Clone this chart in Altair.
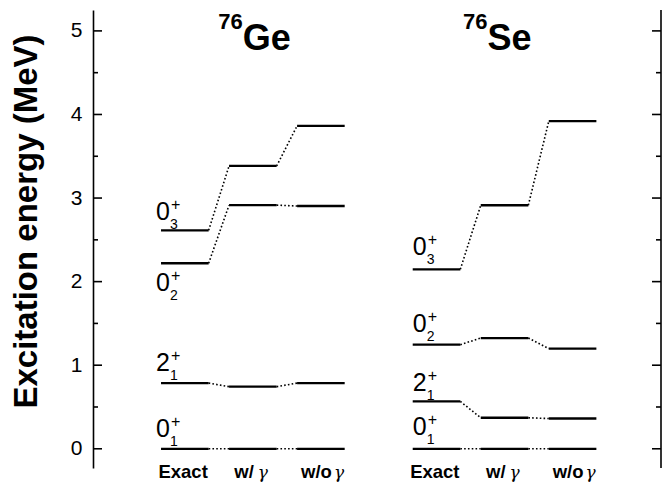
import altair as alt
import pandas as pd

# ---- data -------------------------------------------------------------
NUCLEI = ["Ge", "Se"]
MASS = ["76", "76"]
METHODS = ["Exact", "w/ γ", "w/o γ"]
STATES = ["0_1", "2_1", "0_2", "0_3"]
SPIN = ["0", "2", "0", "0"]
INDEX = ["1", "1", "2", "3"]
PARITY = ["+", "+", "+", "+"]

# excitation energies (MeV) of 0+_1, 2+_1, 0+_2, 0+_3
GE_EXACT = [0.0, 0.786, 2.22, 2.614]
GE_WITH = [0.0, 0.743, 2.915, 3.384]
GE_WITHOUT = [0.0, 0.786, 2.905, 3.863]
SE_EXACT = [0.0, 0.566, 1.245, 2.147]
SE_WITH = [0.0, 0.371, 1.325, 2.914]
SE_WITHOUT = [0.0, 0.362, 1.198, 3.92]

ENERGIES = {
    "Ge": [GE_EXACT, GE_WITH, GE_WITHOUT],
    "Se": [SE_EXACT, SE_WITH, SE_WITHOUT],
}

Y_TICKS = [0, 1, 2, 3, 4, 5]
Y_MINOR = [0.5, 1.5, 2.5, 3.5, 4.5]

# ---- layout -----------------------------------------------------------
W, H = 568, 458
Y_DOMAIN = [-0.23, 5.25]
X_DOMAIN = [-1.35, 7.0]
PX_PER_MEV = H / (Y_DOMAIN[1] - Y_DOMAIN[0])
PX_PER_X = W / (X_DOMAIN[1] - X_DOMAIN[0])
NUCLEUS_SHIFT = 3.7      # horizontal offset between the two level schemes
HALF = 0.35              # half length of a level bar (x units)

# label placement (pixels): lift of the spin label baseline above its level
LABEL_LIFT = {
    ("Ge", "0_1"): 12, ("Ge", "2_1"): 12, ("Ge", "0_2"): -28, ("Ge", "0_3"): 10,
    ("Se", "0_1"): 14, ("Se", "2_1"): 10, ("Se", "0_2"): 13, ("Se", "0_3"): 14,
}
LABEL_SHIFT = {"Ge": -5, "Se": 0}
TITLE_SHIFT = {"Ge": -10, "Se": -17}
PREFIX_SHIFT = {"Exact": 23, "w/": 1, "w/o": 11}
GAMMA_SHIFT = {"w/": 5, "w/o": 13}

FONT = "Liberation Sans"
MAJOR_TICK, MINOR_TICK = 9, 5   # inward tick lengths, pixels
FRAME_WIDTH = 1.6
LEVEL_WIDTH = 2.3


def slot(n_i, m_i):
    return m_i + n_i * NUCLEUS_SHIFT


segments, links, labels, titles, methods = [], [], [], [], []
for n_i, nuc in enumerate(NUCLEI):
    table = ENERGIES[nuc]
    titles.append({"nucleus": nuc, "mass": MASS[n_i],
                   "x": slot(n_i, 1) + TITLE_SHIFT[nuc] / PX_PER_X})
    for m_i, meth in enumerate(METHODS):
        prefix, _, suffix = meth.partition(" ")
        methods.append({
            "prefix": prefix, "suffix": suffix,
            "xp": slot(n_i, m_i) + PREFIX_SHIFT[prefix] / PX_PER_X,
            "xg": slot(n_i, m_i) + GAMMA_SHIFT.get(prefix, 0) / PX_PER_X,
        })
        for s_i, st in enumerate(STATES):
            e = table[m_i][s_i]
            segments.append({"kind": "level", "y": e,
                             "x0": slot(n_i, m_i) - HALF, "x1": slot(n_i, m_i) + HALF})
            if m_i < len(METHODS) - 1:
                links.append({"x0": slot(n_i, m_i) + HALF, "y0": e,
                              "x1": slot(n_i, m_i + 1) - HALF, "y1": table[m_i + 1][s_i]})
    for s_i, st in enumerate(STATES):
        e = table[0][s_i]
        labels.append({
            "spin": SPIN[s_i], "index": INDEX[s_i], "parity": PARITY[s_i],
            "x": slot(n_i, 0) - HALF + LABEL_SHIFT[nuc] / PX_PER_X,
            "y": e + LABEL_LIFT[(nuc, st)] / PX_PER_MEV,
        })

# inward ticks on both frame edges share the horizontal-segment layer
for values, length in ((Y_TICKS, MAJOR_TICK), (Y_MINOR, MINOR_TICK)):
    span = length / PX_PER_X
    for v in values:
        segments.append({"kind": "tick", "y": v,
                         "x0": X_DOMAIN[0], "x1": X_DOMAIN[0] + span})
        segments.append({"kind": "tick", "y": v,
                         "x0": X_DOMAIN[1] - span, "x1": X_DOMAIN[1]})

segments = pd.DataFrame(segments)
links = pd.DataFrame(links)
labels = pd.DataFrame(labels)
titles = pd.DataFrame(titles)
methods = pd.DataFrame(methods)
frame_edge = pd.DataFrame({"x": [X_DOMAIN[1]], "y0": [Y_DOMAIN[0]], "y1": [Y_DOMAIN[1]]})

xs = alt.Scale(domain=X_DOMAIN, nice=False, zero=False)
ys = alt.Scale(domain=Y_DOMAIN, nice=False, zero=False)

main_axis = alt.Axis(
    orient="left", values=Y_TICKS, format="d", ticks=False, tickSize=0, grid=False,
    domain=True, domainColor="black", domainWidth=FRAME_WIDTH,
    labelFont=FONT, labelFontSize=21, labelColor="black", labelPadding=11,
    title="Excitation energy (MeV)", titleFont=FONT, titleFontSize=33,
    titleFontWeight="bold", titleColor="black", titleAngle=270,
    titleX=-57, titleY=211, titleAlign="center", titleBaseline="alphabetic",
)

horizontal = alt.Chart(segments).mark_rule(color="black").encode(
    x=alt.X("x0:Q", scale=xs, axis=None),
    x2="x1:Q",
    y=alt.Y("y:Q", scale=ys, axis=main_axis),
    strokeWidth=alt.condition(
        alt.datum.kind == "tick", alt.value(FRAME_WIDTH), alt.value(LEVEL_WIDTH)
    ),
)

connectors = alt.Chart(links).mark_rule(
    color="black", strokeWidth=1.6, strokeDash=[1.6, 2.2]
).encode(
    x=alt.X("x0:Q", scale=xs, axis=None), x2="x1:Q",
    y=alt.Y("y0:Q", scale=ys), y2="y1:Q",
)

right_frame = alt.Chart(frame_edge).mark_rule(
    color="black", strokeWidth=FRAME_WIDTH
).encode(
    x=alt.X("x:Q", scale=xs, axis=None),
    y=alt.Y("y0:Q", scale=ys), y2="y1:Q",
)

lab_base = alt.Chart(labels).encode(
    x=alt.X("x:Q", scale=xs, axis=None),
    y=alt.Y("y:Q", scale=ys),
)
lab_main = lab_base.mark_text(
    align="left", baseline="alphabetic", font=FONT, fontSize=25, color="black"
).encode(text="spin:N")
lab_sub = lab_base.mark_text(
    align="left", baseline="alphabetic", font=FONT, fontSize=14, color="black",
    dx=14, dy=9,
).encode(text="index:N")
lab_sup = lab_base.mark_text(
    align="left", baseline="alphabetic", font=FONT, fontSize=16, color="black",
    dx=15, dy=-10,
).encode(text="parity:N")

title_sym = alt.Chart(titles).mark_text(
    align="left", baseline="alphabetic", font=FONT, fontSize=36,
    fontWeight="bold", color="black",
).encode(x=alt.X("x:Q", scale=xs, axis=None), y=alt.value(40), text="nucleus:N")
title_mass = alt.Chart(titles).mark_text(
    align="right", baseline="alphabetic", font=FONT, fontSize=22,
    fontWeight="bold", color="black",
).encode(x=alt.X("x:Q", scale=xs, axis=None), y=alt.value(19), text="mass:N")

method_prefix = alt.Chart(methods).mark_text(
    align="right", baseline="alphabetic", font=FONT, fontSize=18.5,
    fontWeight="bold", color="black",
).encode(x=alt.X("xp:Q", scale=xs, axis=None), y=alt.value(468), text="prefix:N")
method_gamma = alt.Chart(methods).transform_filter(
    alt.datum.suffix != ""
).mark_text(
    align="left", baseline="alphabetic", font="DejaVu Serif", fontSize=17,
    fontStyle="italic", color="black",
).encode(x=alt.X("xg:Q", scale=xs, axis=None), y=alt.value(468), text="suffix:N")

chart = alt.layer(
    horizontal, connectors, right_frame,
    lab_main, lab_sub, lab_sup,
    title_mass, title_sym, method_prefix, method_gamma,
).properties(
    width=W, height=H,
    padding={"left": 93, "top": 10, "right": 9, "bottom": 14},
    autosize=alt.AutoSizeParams(type="none"),
    background="white",
).configure_view(stroke=None)

chart.save("out.html", embed_options={"renderer": "svg", "actions": False})
